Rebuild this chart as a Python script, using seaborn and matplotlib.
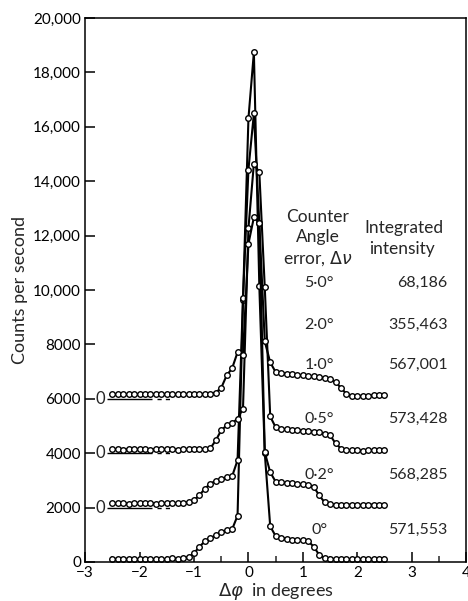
import matplotlib
matplotlib.use("Agg")
import matplotlib.pyplot as plt
import matplotlib.ticker as mticker
import numpy as np
import pandas as pd
import seaborn as sns

# scan angle grid (degrees)
phi = [-2.5, -2.4, -2.3, -2.2, -2.1, -2.0, -1.9, -1.8, -1.7, -1.6,
       -1.5, -1.4, -1.3, -1.2, -1.1, -1.0, -0.9, -0.8, -0.7, -0.6,
       -0.5, -0.4, -0.3, -0.2, -0.1, 0.0, 0.1, 0.2, 0.3, 0.4,
       0.5, 0.6, 0.7, 0.8, 0.9, 1.0, 1.1, 1.2, 1.3, 1.4,
       1.5, 1.6, 1.7, 1.8, 1.9, 2.0, 2.1, 2.2, 2.3, 2.4, 2.5]

# counts per second, already shifted by the plotting offset
counts_0 = [120, 110, 100, 120, 110, 100, 110, 100, 120, 110,
            100, 130, 120, 150, 180, 320, 560, 760, 880, 980,
            1090, 1160, 1200, 1700, 9620, 16310, 18740, 10140, 4000, 1310,
            950, 890, 850, 820, 800, 790, 760, 560, 260, 140,
            120, 110, 100, 110, 100, 120, 100, 110, 100, 110, 120]
counts_02 = [2160, 2150, 2170, 2140, 2160, 2150, 2170, 2160, 2140, 2160,
             2150, 2170, 2160, 2180, 2200, 2270, 2450, 2700, 2870, 2990,
             3060, 3110, 3150, 3740, 9690, 14430, 16490, 12450, 4030, 3300,
             2950, 2930, 2900, 2890, 2870, 2860, 2840, 2760, 2450, 2190,
             2120, 2100, 2090, 2100, 2110, 2100, 2090, 2100, 2110, 2100, 2100]
counts_05 = [4140, 4150, 4130, 4150, 4140, 4160, 4140, 4130, 4150, 4140,
             4150, 4140, 4130, 4150, 4140, 4150, 4140, 4150, 4180, 4470,
             4840, 5020, 5100, 5270, 5640, 12270, 14650, 14320, 10100, 5350,
             4950, 4900, 4880, 4860, 4840, 4830, 4810, 4790, 4760, 4720,
             4660, 4360, 4170, 4110, 4100, 4100, 4090, 4100, 4110, 4100, 4100]
counts_10 = [6170, 6160, 6180, 6170, 6160, 6180, 6170, 6160, 6170, 6180,
             6170, 6160, 6170, 6180, 6170, 6160, 6170, 6180, 6190, 6230,
             6400, 6860, 7120, 7710, 7600, 11700, 12670, 12450, 8110, 7340,
             6980, 6950, 6920, 6900, 6880, 6860, 6840, 6820, 6790, 6760,
             6720, 6620, 6400, 6180, 6120, 6100, 6110, 6120, 6130, 6130, 6130]

offsets = [0, 2000, 4000, 6000]
angle_errors = ["5·0°", "2·0°", "1·0°", "0·5°", "0·2°", "0°"]
intensities = ["68,186", "355,463", "567,001", "573,428", "568,285", "571,553"]
label_heights = [10250, 8700, 7230, 5250, 3190, 1160]

frames = []
for name, vals in [("0", counts_0), ("0.2", counts_02), ("0.5", counts_05), ("1.0", counts_10)]:
    frames.append(pd.DataFrame({"phi": phi, "counts": vals, "curve": name}))
df = pd.concat(frames, ignore_index=True)

sns.set_style("ticks")
plt.rcParams["font.family"] = ["Lato", "DejaVu Sans"]
plt.rcParams["mathtext.fontset"] = "dejavusans"

fig = plt.figure(figsize=(4.68, 6.01), dpi=100)
ax = fig.add_axes([0.182, 0.065, 0.814, 0.905])

for name, sub in df.groupby("curve"):
    sns.lineplot(data=sub, x="phi", y="counts", ax=ax, color="black",
                 linewidth=1.5, marker="o", markersize=4.0,
                 markerfacecolor="white", markeredgecolor="black",
                 markeredgewidth=1.0, legend=False, sort=True)

# zero reference lines for the shifted curves
for off in offsets[1:]:
    ax.hlines(off, -2.6, -1.78, color="black", linewidth=1.0)
    ax.hlines(off, -1.68, -1.45, color="black", linewidth=1.0, linestyles=(0, (3, 3)))
    ax.text(-2.72, off, "0", ha="center", va="center", fontsize=12)

ax.set_xlim(-3, 4)
ax.set_ylim(0, 20000)
ax.xaxis.set_major_locator(mticker.MultipleLocator(1))
ax.xaxis.set_minor_locator(mticker.MultipleLocator(0.5))
ax.yaxis.set_major_locator(mticker.MultipleLocator(2000))
ax.yaxis.set_major_formatter(mticker.FuncFormatter(
    lambda v, p: f"{int(v):,}" if v >= 10000 else f"{int(v)}"))
ax.tick_params(axis="both", which="major", direction="in", length=7,
               width=1.1, labelsize=11, pad=3, colors="black")
ax.tick_params(axis="x", which="minor", direction="in", length=4, width=1.1)
for sp in ax.spines.values():
    sp.set_linewidth(1.1)
    sp.set_color("black")

ax.set_xlabel(r"$\Delta\varphi$  in degrees", fontsize=13, labelpad=1)
ax.set_ylabel("Counts per second", fontsize=13, labelpad=4)

# column headings
head = 12.5
ax.text(1.27, 12666, "Counter", ha="center", va="center", fontsize=head)
ax.text(1.27, 11930, "Angle", ha="center", va="center", fontsize=head)
ax.text(1.27, 11158, r"error, $\Delta\nu$", ha="center", va="center", fontsize=head)
ax.text(2.86, 12268, "Integrated", ha="center", va="center", fontsize=head)
ax.text(2.82, 11496, "intensity", ha="center", va="center", fontsize=head)

for ang, inten, h in zip(angle_errors, intensities, label_heights):
    ax.text(1.3, h, ang, ha="center", va="center", fontsize=11.5)
    ax.text(3.66, h, inten, ha="right", va="center", fontsize=11.5)

fig.savefig("out.png", dpi=100)
